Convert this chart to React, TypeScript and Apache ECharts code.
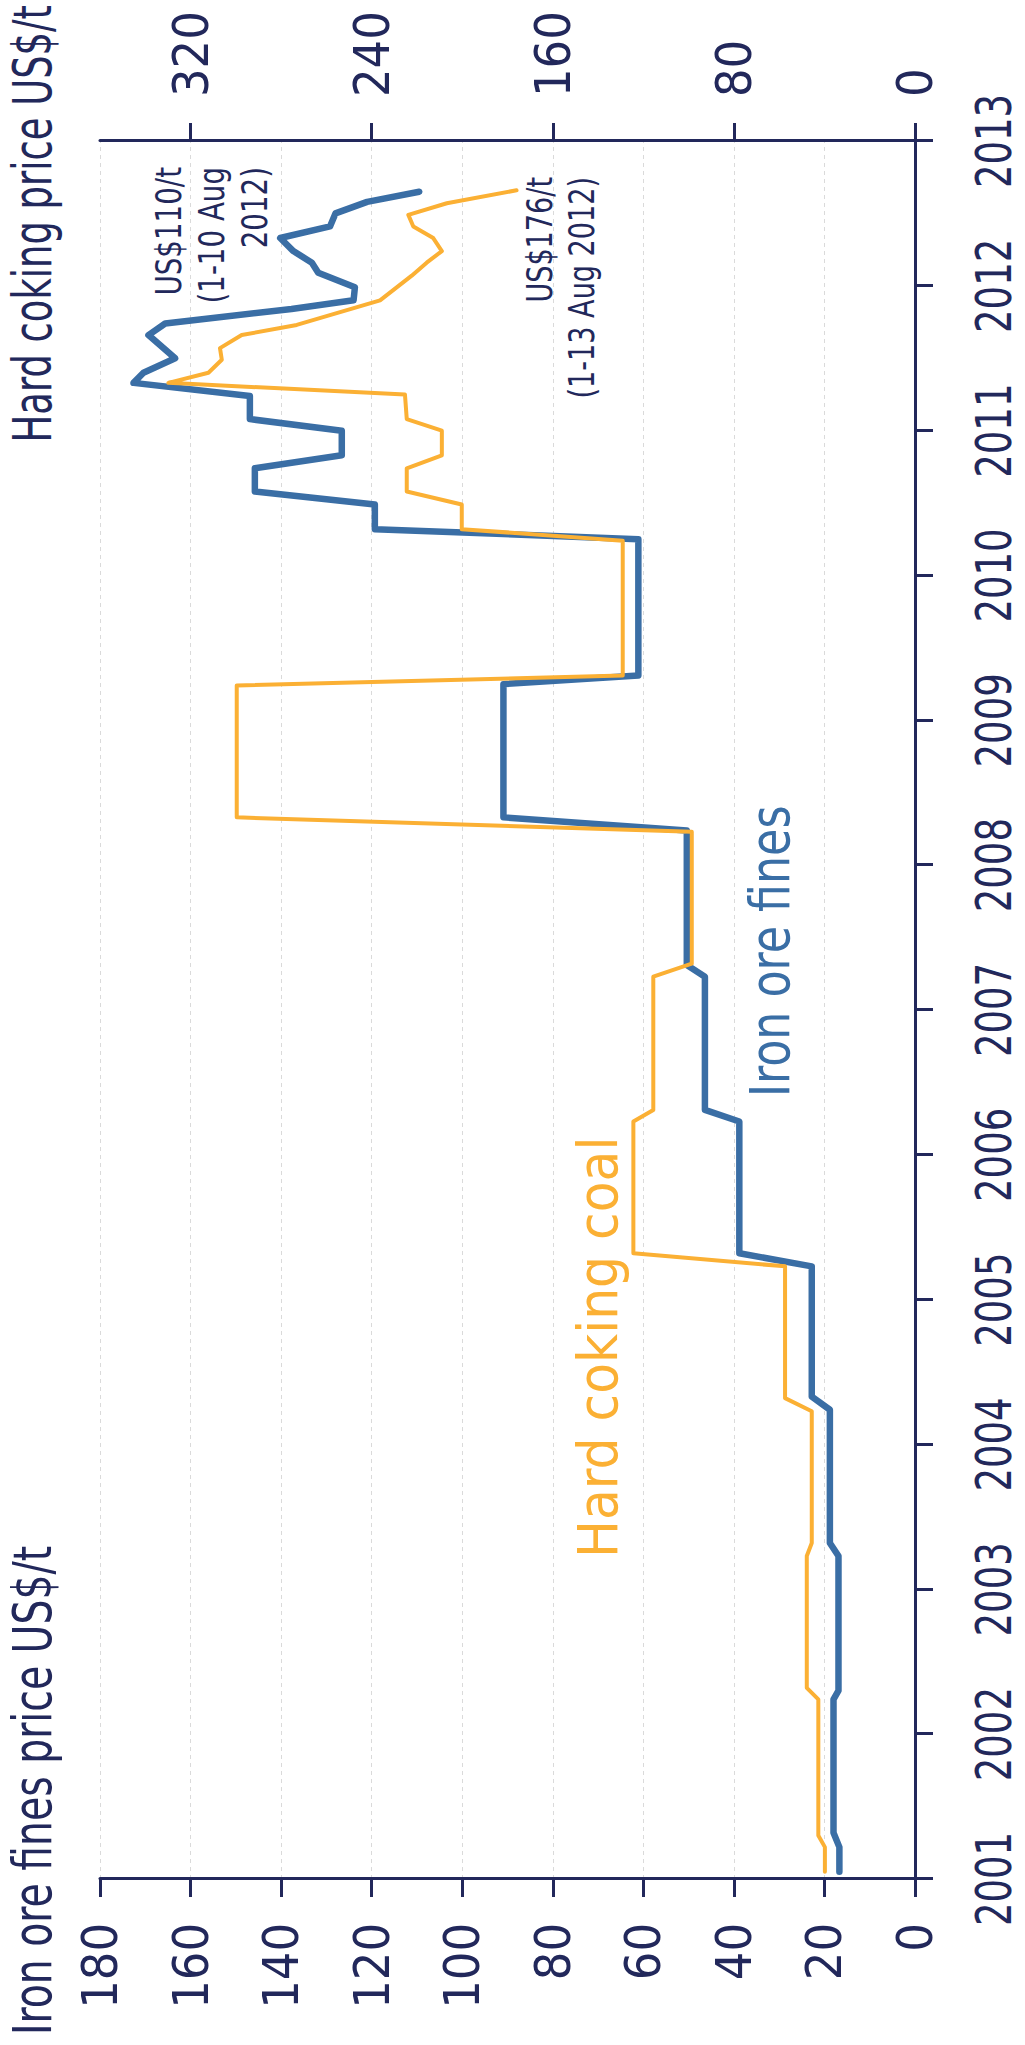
import React, { useEffect, useRef } from "react";
import * as echarts from "echarts";

// ---- Data (decimal year, US$/t) ----
const IRON_DATES = [
  2001.05, 2001.22, 2001.32, 2002.24, 2002.3, 2003.23, 2003.32, 2004.24, 2004.33, 2005.23,
  2005.32, 2006.23, 2006.31, 2007.23, 2007.31, 2008.24, 2008.33, 2009.25, 2009.31, 2010.25,
  2010.32, 2010.49, 2010.58, 2010.74, 2010.83, 2011.0, 2011.08, 2011.24, 2011.33, 2011.4,
  2011.5, 2011.66, 2011.74, 2011.84, 2011.9, 2011.99, 2012.09, 2012.16, 2012.24, 2012.33,
  2012.41, 2012.5, 2012.58, 2012.65,
];
const IRON_VALUES = [
  16.7, 16.7, 18.0, 18.0, 16.9, 16.9, 18.8, 18.8, 22.8, 22.8,
  38.8, 38.8, 46.4, 46.4, 50.4, 50.4, 90.9, 90.9, 61.1, 61.1,
  119.3, 119.3, 145.8, 145.8, 126.6, 126.6, 146.9, 146.9, 172.6, 170.4,
  163.4, 169.3, 165.6, 137.7, 124.0, 123.7, 131.8, 133.2, 137.3, 140.2,
  129.2, 128.0, 121.0, 109.5,
];

const COKING_DATES = [
  2001.05, 2001.22, 2001.3, 2002.24, 2002.32, 2003.23, 2003.32, 2004.23, 2004.32, 2005.23,
  2005.32, 2006.23, 2006.31, 2007.23, 2007.32, 2008.23, 2008.33, 2009.24, 2009.31, 2010.24,
  2010.32, 2010.49, 2010.58, 2010.74, 2010.83, 2011.0, 2011.08, 2011.25, 2011.33, 2011.4,
  2011.49, 2011.57, 2011.66, 2011.73, 2011.9, 2012.07, 2012.16, 2012.24, 2012.33, 2012.41,
  2012.49, 2012.57, 2012.66,
];
const COKING_VALUES = [
  39.8, 39.8, 42.7, 42.7, 47.8, 47.8, 45.6, 45.6, 57.4, 57.4,
  124.4, 124.4, 115.6, 115.6, 98.6, 98.6, 299.6, 299.6, 129.1, 129.1,
  200.2, 200.2, 224.5, 224.5, 209.0, 209.0, 224.5, 225.3, 329.8, 312.1,
  306.2, 307.0, 297.4, 273.1, 236.3, 222.3, 215.7, 209.0, 212.8, 221.6,
  223.8, 206.8, 176.0,
];

const YEAR_TICKS = [2001, 2002, 2003, 2004, 2005, 2006, 2007, 2008, 2009, 2010, 2011, 2012, 2013];
const IRON_MAX = 180;
const COKING_MAX = 360;
const COKING_TICKS = [0, 80, 160, 240, 320];

const TITLE_LEFT = "Iron ore fines price US$/t";
const TITLE_RIGHT = "Hard coking price US$/t";
const LABEL_IRON = "Iron ore fines";
const LABEL_COKING = "Hard coking coal";
const NOTE_IRON = "US$110/t\n(1-10 Aug\n2012)";
const NOTE_COKING = "US$176/t\n(1-13 Aug 2012)";

const NAVY = "#22285b";
const BLUE = "#3a6ea5";
const ORANGE = "#fbb034";
const GRID = "#dadada";
const FONT = "'DejaVu Sans Condensed', 'DejaVu Sans', sans-serif";

// landscape canvas, rotated -90deg into the portrait page
const W = 2045;
const H = 1025;

export default function App() {
  const ref = useRef<HTMLDivElement>(null);

  useEffect(() => {
    if (!ref.current) return;
    const chart = echarts.init(ref.current, undefined, { renderer: "svg", width: W, height: H });
    const axisLine = { show: true, onZero: false, lineStyle: { color: NAVY, width: 3 } };
    const axisTick = { show: true, length: 18, lineStyle: { color: NAVY, width: 3 } };
    const option: any = {
      animation: false,
      backgroundColor: "#ffffff",
      grid: { left: 166, right: 141, top: 100, bottom: 110 },
      xAxis: {
        type: "value",
        min: YEAR_TICKS[0],
        max: YEAR_TICKS[YEAR_TICKS.length - 1],
        interval: 1,
        position: "bottom",
        axisLine,
        axisTick,
        axisLabel: { show: false },
        splitLine: { show: false },
      },
      yAxis: [
        {
          type: "value",
          min: 0,
          max: IRON_MAX,
          interval: 20,
          position: "left",
          axisLine,
          axisTick,
          axisLabel: { margin: 44, fontSize: 50, fontFamily: FONT, color: NAVY },
          splitLine: { show: true, lineStyle: { color: GRID, width: 1, type: [4, 4] } },
        },
        {
          type: "value",
          min: 0,
          max: COKING_MAX,
          position: "right",
          axisLine,
          axisTick: { ...axisTick, customValues: COKING_TICKS },
          axisLabel: {
            customValues: COKING_TICKS,
            margin: 44,
            fontSize: 50,
            fontFamily: FONT,
            color: NAVY,
          },
          splitLine: { show: false },
        },
      ],
      series: [
        {
          name: "Iron ore fines",
          type: "line",
          yAxisIndex: 0,
          showSymbol: false,
          symbol: "none",
          data: IRON_DATES.map((d, i) => [d, IRON_VALUES[i]]),
          lineStyle: { color: BLUE, width: 6.5, cap: "round", join: "round" },
          z: 3,
        },
        {
          name: "Hard coking coal",
          type: "line",
          yAxisIndex: 1,
          showSymbol: false,
          symbol: "none",
          data: COKING_DATES.map((d, i) => [d, COKING_VALUES[i]]),
          lineStyle: { color: ORANGE, width: 4, cap: "round", join: "round" },
          z: 4,
        },
      ],
    };
    chart.setOption(option);

    // year labels, positioned through the x axis scale, condensed like the original
    const axisY = chart.convertToPixel({ yAxisIndex: 0 }, 0) as number;
    const yearLabels = YEAR_TICKS.map((yr) => ({
      type: "text",
      x: chart.convertToPixel({ xAxisIndex: 0 }, yr) as number,
      y: axisY + 79,
      scaleX: 0.84,
      style: { text: String(yr), align: "center", verticalAlign: "middle", fontSize: 49, fontFamily: FONT, fill: NAVY },
    }));

    chart.setOption({
      graphic: [
        ...yearLabels,
        {
          type: "text",
          x: 2040,
          y: 32,
          scaleX: 0.76,
          style: { text: TITLE_RIGHT, align: "right", verticalAlign: "middle", fontSize: 54, fontFamily: FONT, fill: NAVY },
        },
        {
          type: "text",
          x: 10,
          y: 32,
          scaleX: 0.81,
          style: { text: TITLE_LEFT, align: "left", verticalAlign: "middle", fontSize: 54, fontFamily: FONT, fill: NAVY },
        },
        {
          type: "text",
          x: 948,
          y: 769,
          scaleX: 0.88,
          style: { text: LABEL_IRON, align: "left", verticalAlign: "middle", fontSize: 56, fontFamily: FONT, fill: BLUE },
        },
        {
          type: "text",
          x: 487,
          y: 597,
          style: { text: LABEL_COKING, align: "left", verticalAlign: "middle", fontSize: 56, fontFamily: FONT, fill: ORANGE },
        },
        {
          type: "text",
          x: 1878,
          y: 212,
          scaleX: 0.88,
          style: { text: NOTE_IRON, align: "right", verticalAlign: "middle", lineHeight: 43, fontSize: 35, fontFamily: FONT, fill: NAVY },
        },
        {
          type: "text",
          x: 1868,
          y: 561,
          scaleX: 0.86,
          style: { text: NOTE_COKING, align: "right", verticalAlign: "middle", lineHeight: 42, fontSize: 35, fontFamily: FONT, fill: NAVY },
        },
      ],
    });
    return () => chart.dispose();
  }, []);

  return (
    <div
      style={{
        position: "absolute",
        left: 0,
        top: 0,
        width: H,
        height: W,
        overflow: "hidden",
        background: "#ffffff",
      }}
    >
      <div
        ref={ref}
        style={{
          position: "absolute",
          left: 0,
          top: 0,
          width: W,
          height: H,
          transformOrigin: "0 0",
          transform: `translateY(${W}px) rotate(-90deg)`,
        }}
      />
    </div>
  );
}
